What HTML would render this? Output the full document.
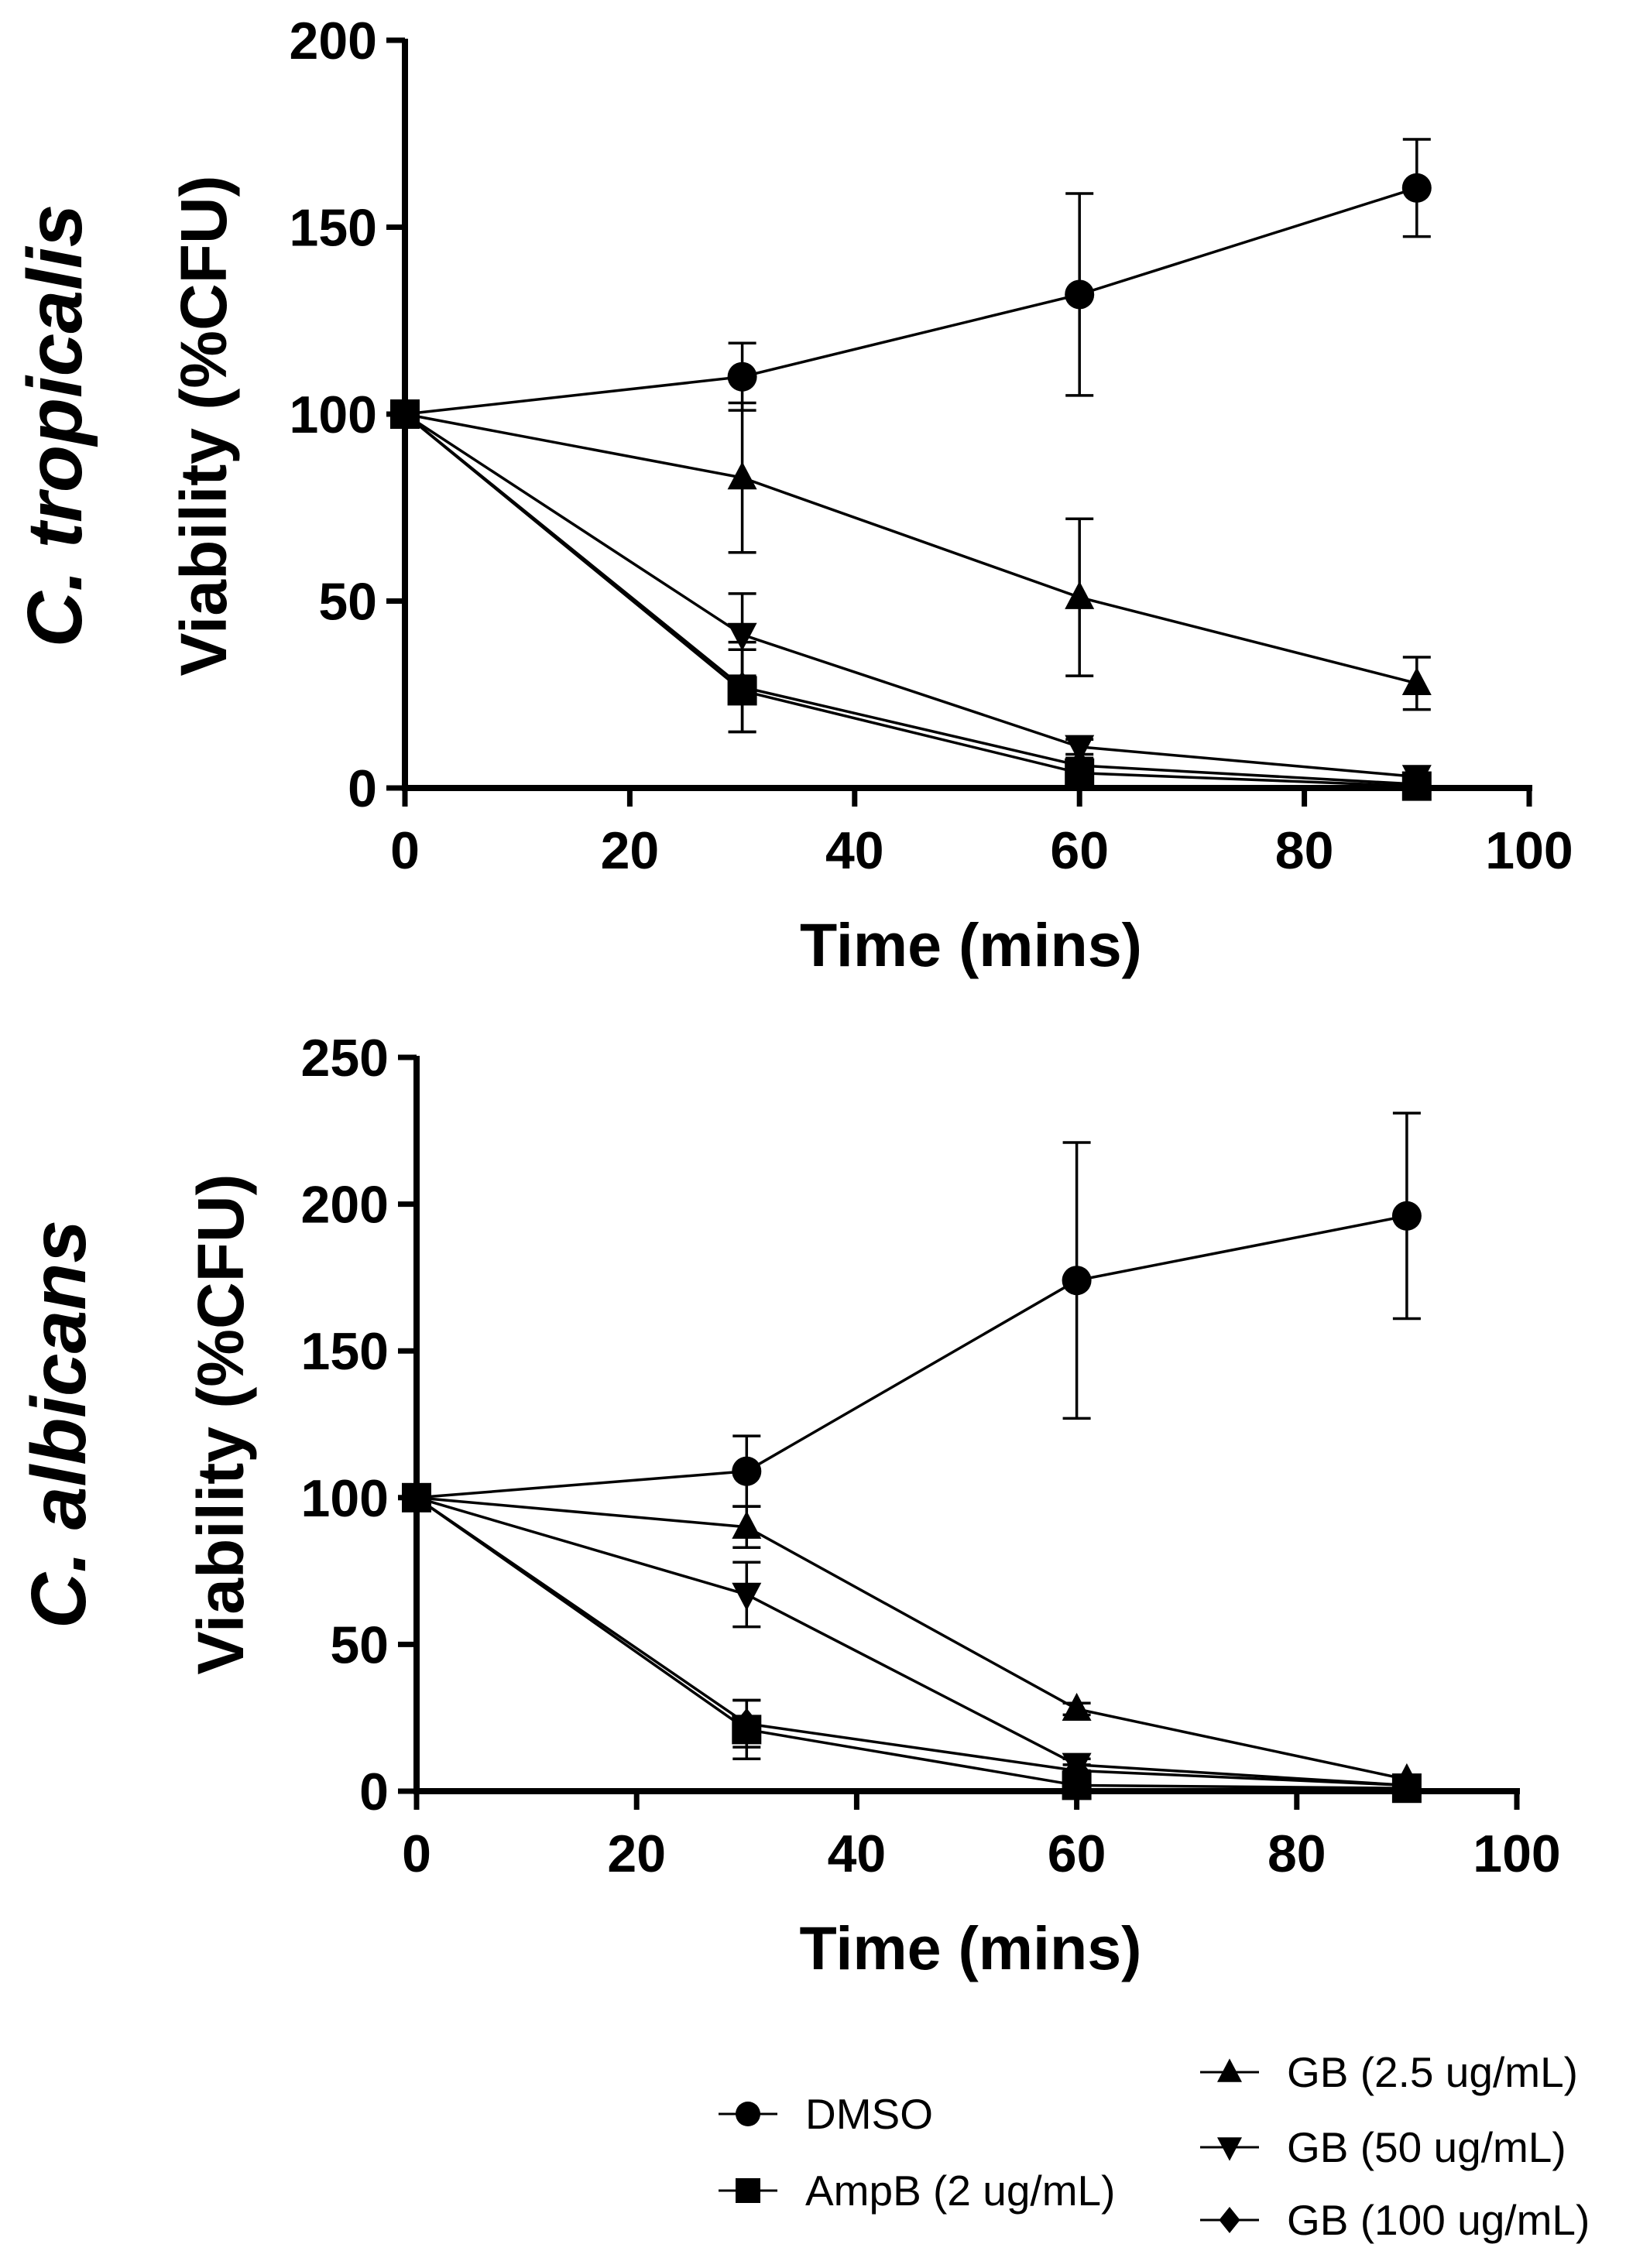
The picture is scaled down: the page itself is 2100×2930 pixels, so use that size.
<!DOCTYPE html>
<html><head><meta charset="utf-8"><style>
html,body{margin:0;padding:0;background:#fff;}
svg{display:block;font-family:"Liberation Sans",Arial,sans-serif;}
</style></head><body>
<svg id="fig" width="2100" height="2930" viewBox="0 0 2100 2930"></svg>
<script>
const xTicks=[0,20,40,60,80,100];
const times=[0,30,60,90];
const seriesNames=['DMSO','AmpB (2 ug/mL)','GB (2.5 ug/mL)','GB (50 ug/mL)','GB (100 ug/mL)'];
const markers=['circle','square','up','down','diamond'];
// top: C. tropicalis
const topYTicks=[0,50,100,150,200];
const topDMSO=[100,110,132,160.5];
const topDMSOerr=[0,9,27,13];
const topAmpB=[100,26,4,0.5];
const topAmpBerr=[0,11,2,1];
const topGB25=[100,83,51,28];
const topGB25err=[0,20,21,7];
const topGB50=[100,41,11,3];
const topGB50err=[0,11,2,1];
const topGB100=[100,27,6,1];
const topGB100err=[0,12,2,1];
// bottom: C. albicans
const botYTicks=[0,50,100,150,200,250];
const botDMSO=[100,109,174,196];
const botDMSOerr=[0,12,47,35];
const botAmpB=[100,21,2,1];
const botAmpBerr=[0,10,1,1];
const botGB25=[100,90,28,4];
const botGB25err=[0,7,2,1];
const botGB50=[100,67,9,2];
const botGB50err=[0,11,2,1];
const botGB100=[100,23,7,2];
const botGB100err=[0,8,2,1];

const NS='http://www.w3.org/2000/svg';
const svg=document.getElementById('fig');
function mk(tag,attrs,parent){const e=document.createElementNS(NS,tag);for(const k in attrs)e.setAttribute(k,attrs[k]);(parent||svg).appendChild(e);return e;}

function marker(g,type,cx,cy,s){
  let e;
  if(type==='circle')e=mk('circle',{cx:cx,cy:cy,r:s,fill:'#000'},g);
  else if(type==='square')e=mk('rect',{x:cx-s,y:cy-s,width:2*s,height:2*s,fill:'#000'},g);
  else if(type==='up')e=mk('polygon',{points:`${cx},${cy-s*1.1} ${cx-s},${cy+s*0.8} ${cx+s},${cy+s*0.8}`,fill:'#000'},g);
  else if(type==='down')e=mk('polygon',{points:`${cx},${cy+s*1.1} ${cx-s},${cy-s*0.8} ${cx+s},${cy-s*0.8}`,fill:'#000'},g);
  else e=mk('polygon',{points:`${cx},${cy-s} ${cx+s*0.8},${cy} ${cx},${cy+s} ${cx-s*0.8},${cy}`,fill:'#000'},g);
  return e;
}

function chart(cfg){
  const g=mk('g',{});
  
  
  const X=v=>cfg.x0+(v/100)*(cfg.x1-cfg.x0);
  const ymax=cfg.yTicks[cfg.yTicks.length-1];
  const Y=v=>cfg.y0-(v/ymax)*(cfg.y0-cfg.y1);
  const order=[2,3,4,1,0];
  cfg.series.forEach((s,i)=>{
    const pl=mk('polyline',{points:times.map((t,j)=>X(t)+','+Y(s.v[j])).join(' '),fill:'none',stroke:'#000','stroke-width':3.5},g);
    
    
    times.forEach((t,j)=>{
      if(s.e[j]>0){
        const cx=X(t),a=Y(s.v[j]+s.e[j]),b=Y(Math.max(0,s.v[j]-s.e[j]));
        const eb=mk('path',{d:`M${cx},${a}V${b}M${cx-18},${a}H${cx+18}M${cx-18},${b}H${cx+18}`,stroke:'#000','stroke-width':3.5,fill:'none'},g);
        
        
      }
    });
  });
  order.forEach(i=>{
    const s=cfg.series[i];
    times.forEach((t,j)=>{
      const m=marker(g,markers[i],X(t),Y(s.v[j]),i===4?20:19);
      
      
    });
  });
  const ax=mk('path',{d:`M${cfg.x0},${cfg.y1-2}V${cfg.y0}H${cfg.x1+4}`,stroke:'#000','stroke-width':8,fill:'none'},g);
  
  
  cfg.yTicks.forEach(v=>{
    mk('line',{x1:cfg.x0-24,x2:cfg.x0,y1:Y(v),y2:Y(v),stroke:'#000','stroke-width':7},g);
    const t=mk('text',{x:cfg.x0-36,y:Y(v)+24,'text-anchor':'end','font-size':68,'font-weight':'bold'},g);
    t.textContent=v;
    
    
  });
  xTicks.forEach(v=>{
    mk('line',{x1:X(v),x2:X(v),y1:cfg.y0,y2:cfg.y0+24,stroke:'#000','stroke-width':7},g);
    const t=mk('text',{x:X(v),y:cfg.y0+104,'text-anchor':'middle','font-size':68,'font-weight':'bold'},g);
    t.textContent=v;
    
    
  });
  const xt=mk('text',{x:(cfg.x0+cfg.x1)/2+5,y:cfg.y0+230,'text-anchor':'middle','font-size':79,'font-weight':'bold'},g);
  xt.textContent='Time (mins)';
  
  
  const yt=mk('text',{x:0,y:0,'text-anchor':'middle','font-size':84,'font-weight':'bold',transform:`translate(${cfg.ytx},${cfg.ytc}) rotate(-90)`},g);
  yt.textContent='Viability (%CFU)';
  
  
  const sp=mk('text',{x:0,y:0,'text-anchor':'middle','font-size':100,'font-weight':'bold','font-style':'italic',transform:`translate(${cfg.stx},${cfg.ytc}) rotate(-90)`},g);
  sp.innerHTML='C. <tspan>'+cfg.species+'</tspan>';
  
  
}

chart({name:'chart-c-tropicalis',species:'tropicalis',x0:523,x1:1975,y0:1018,y1:52,yTicks:topYTicks,ytx:292,stx:105,ytc:550,
  series:[{v:topDMSO,e:topDMSOerr},{v:topAmpB,e:topAmpBerr},{v:topGB25,e:topGB25err},{v:topGB50,e:topGB50err},{v:topGB100,e:topGB100err}]});
chart({name:'chart-c-albicans',species:'albicans',x0:538,x1:1959,y0:2314,y1:1366,yTicks:botYTicks,ytx:314,stx:110,ytc:1840,
  series:[{v:botDMSO,e:botDMSOerr},{v:botAmpB,e:botAmpBerr},{v:botGB25,e:botGB25err},{v:botGB50,e:botGB50err},{v:botGB100,e:botGB100err}]});

const lg=mk('g',{});


const legPos=[[928,2731],[928,2830],[1550,2677],[1550,2774],[1550,2868]];
legPos.forEach((p,i)=>{
  const eg=mk('g',{},lg);
  
  
  mk('line',{x1:p[0],x2:p[0]+76,y1:p[1],y2:p[1],stroke:'#000','stroke-width':3},eg);
  marker(eg,markers[i],p[0]+38,p[1],i===4?17:16);
  const t=mk('text',{x:p[0]+112,y:p[1]+19,'font-size':55},eg);
  t.textContent=seriesNames[i];
});
</script>
</body></html>
